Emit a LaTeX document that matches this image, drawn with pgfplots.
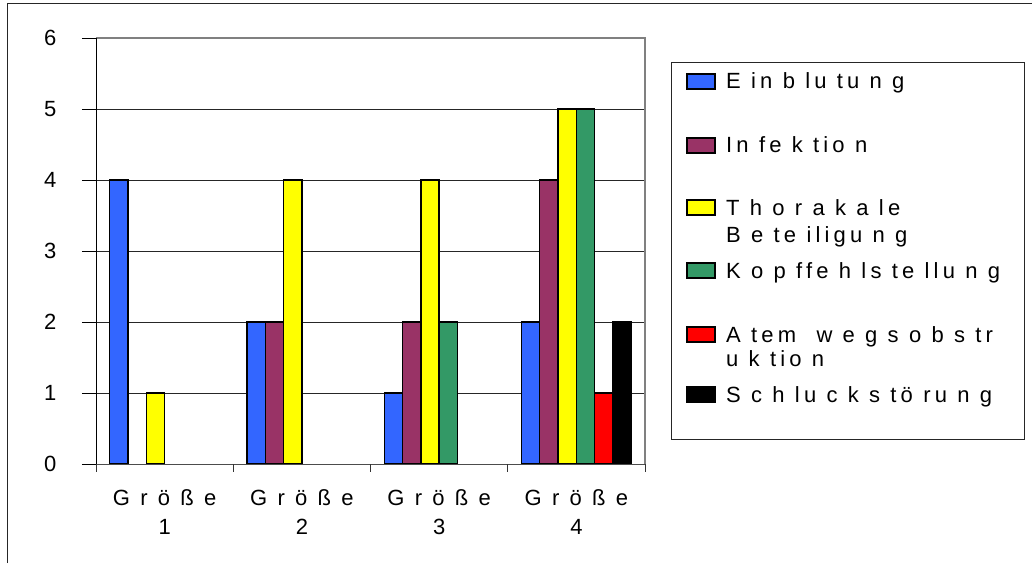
\documentclass[border=0pt]{standalone}
\usepackage{pgfplots}
\pgfplotsset{compat=1.18}
\usepackage{fontspec}
\setmainfont{Liberation Sans}
\newfontfamily\lsfont{Liberation Sans}[LetterSpace=19]
\definecolor{cBlue}{HTML}{3366FF}
\definecolor{cPurple}{HTML}{993366}
\definecolor{cYellow}{HTML}{FFFF00}
\definecolor{cGreen}{HTML}{339966}
\definecolor{cRed}{HTML}{FF0000}
\definecolor{cBlack}{HTML}{000000}
\definecolor{frameGray}{HTML}{808080}
\begin{document}
\begin{tikzpicture}
\useasboundingbox (0pt,0pt) rectangle (1032pt,563pt);
\draw[black!85, line width=1pt] (7pt,0pt) -- (7pt,559pt) -- (1032pt,559pt);
\begin{axis}[
  at={(96pt,99pt)}, anchor=south west,
  scale only axis, width=549pt, height=426pt,
  xmin=-0.5, xmax=3.5, ymin=0, ymax=6,
  clip=false,
  ybar=0pt, bar width=0.1333,
  axis line style={draw=none},
  xtick={0,1,2,3},
  xticklabels={{G r ö ß e\\1},{G r ö ß e\\2},{G r ö ß e\\3},{G r ö ß e\\4}},
  xtick style={draw=none},
  xticklabel style={font=\lsfont\fontsize{22}{29}\selectfont, align=center, anchor=north, yshift=-8pt},
  ytick={0,1,2,3,4,5,6},
  ytick pos=left,
  tick align=outside, major tick length=14pt,
  ytick style={black, line width=0.8pt},
  yticklabel style={font=\fontsize{22}{26}\selectfont, xshift=-22pt},
  /pgf/number format/assume math mode=true,
  ymajorgrids, major grid style={black!85, line width=0.8pt},
  every axis plot/.append style={draw=black, line width=1.4pt},
]
\addplot[fill=cBlue] coordinates {(0,4) (1,2) (2,1) (3,2)};
\addplot[fill=cPurple] coordinates {(1,2) (2,2) (3,4)};
\addplot[fill=cYellow] coordinates {(0,1) (1,4) (2,4) (3,5)};
\addplot[fill=cGreen] coordinates {(2,2) (3,5)};
\addplot[fill=cRed] coordinates {(3,1)};
\addplot[fill=cBlack] coordinates {(3,2)};
\draw[frameGray, line width=1.5pt] (rel axis cs:0,1) -- (rel axis cs:1,1) -- (rel axis cs:1,0);
\draw[black!70, line width=1pt] (rel axis cs:0,0) -- (rel axis cs:1,0);
\draw[black, line width=1pt] (rel axis cs:0,0) -- (rel axis cs:0,1);
\draw[black!80, line width=0.8pt] (axis cs:-0.5,0) -- ++(0pt,-8pt);
\draw[black!80, line width=0.8pt] (axis cs:0.5,0) -- ++(0pt,-8pt);
\draw[black!80, line width=0.8pt] (axis cs:1.5,0) -- ++(0pt,-8pt);
\draw[black!80, line width=0.8pt] (axis cs:2.5,0) -- ++(0pt,-8pt);
\draw[black!80, line width=0.8pt] (axis cs:3.5,0) -- ++(0pt,-8pt);
\end{axis}
% legend
\draw[black!85, line width=1pt] (671pt,124pt) rectangle (1024pt,500pt);
\begin{scope}[line width=1.4pt]
\draw[fill=cBlue]   (687pt,474pt) rectangle (715pt,489pt);
\draw[fill=cPurple] (687pt,410pt) rectangle (715pt,425pt);
\draw[fill=cYellow] (687pt,348pt) rectangle (715pt,363pt);
\draw[fill=cGreen]  (687pt,285pt) rectangle (715pt,300pt);
\draw[fill=cRed]    (687pt,221pt) rectangle (715pt,236pt);
\draw[fill=cBlack]  (687pt,161pt) rectangle (715pt,176pt);
\end{scope}
\begin{scope}[every node/.style={anchor=base west, inner sep=0pt, font=\lsfont\fontsize{22}{26}\selectfont}]
\node at (726pt,474pt) {E in b lu tu n g};
\node at (726pt,410pt) {In fe k tio n};
\node at (726pt,348pt) {T h o r a k a le};
\node at (726pt,320pt) {B e te iligu n g};
\node at (726pt,285pt) {K o p ffe h ls te llu n g};
\node at (726pt,221pt) {A tem \hspace{10pt}w e g s o b s tr};
\node at (726pt,197pt) {u k tio n};
\node at (726pt,161pt) {S c h lu c k s tö ru n g};
\end{scope}
\end{tikzpicture}
\end{document}
